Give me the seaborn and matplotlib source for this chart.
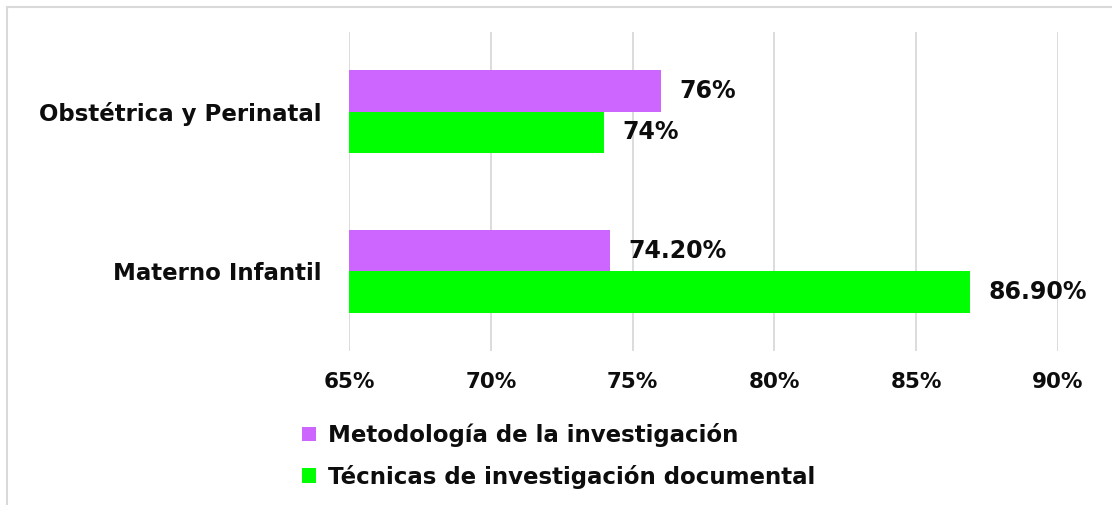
import matplotlib
matplotlib.use("Agg")
import matplotlib.pyplot as plt
from matplotlib.patches import Patch
from matplotlib.lines import Line2D
import seaborn as sns
import pandas as pd

categories = ["Obstétrica y Perinatal", "Materno Infantil"]
series_names = ["Metodología de la investigación", "Técnicas de investigación documental"]
metodologia = [76.0, 74.2]
tecnicas = [74.0, 86.9]
label_metodologia = ["76%", "74.20%"]
label_tecnicas = ["74%", "86.90%"]
tick_values = [65, 70, 75, 80, 85, 90]
tick_labels = ["65%", "70%", "75%", "80%", "85%", "90%"]
colors = ["#CC66FF", "#00FF00"]
text_color = "#0D0D0D"

rows = []
for c, v, l in zip(categories, metodologia, label_metodologia):
    rows.append({"cat": c, "serie": series_names[0], "val": v, "lab": l})
for c, v, l in zip(categories, tecnicas, label_tecnicas):
    rows.append({"cat": c, "serie": series_names[1], "val": v, "lab": l})
df = pd.DataFrame(rows)

sns.set_theme(style="white")
plt.rcParams["font.family"] = ["DejaVu Sans"]

W, H = 1112, 505
fig = plt.figure(figsize=(W / 100, H / 100), dpi=100)
left, right, top, bottom = 349, 1058, 32, 351
ax = fig.add_axes([left / W, 1 - bottom / H, (right - left) / W, (bottom - top) / H])

sns.barplot(data=df, y="cat", x="val", hue="serie", order=categories,
            hue_order=series_names, palette=colors, width=0.52, orient="h",
            ax=ax, legend=False, saturation=1, linewidth=0)

ax.set_xlim(65, 90)
ax.set_ylim(1.5, -0.5)
ax.set_xticks(tick_values)
ax.set_xticklabels(tick_labels, fontsize=15.5, fontweight="bold", color=text_color)
ax.tick_params(axis="x", length=0, pad=15)
ax.tick_params(axis="y", length=0, pad=20)
for t in ax.get_yticklabels():
    t.set_fontsize(16.5)
    t.set_fontweight("bold")
    t.set_color(text_color)
ax.set_xlabel("")
ax.set_ylabel("")
for s in ax.spines.values():
    s.set_visible(False)
ax.grid(axis="x", color="#D9D9D9", linewidth=1.3)
ax.set_axisbelow(True)

# data labels
for container, labs in zip(ax.containers, [label_metodologia, label_tecnicas]):
    ax.bar_label(container, labels=labs, padding=13, fontsize=17,
                 fontweight="bold", color=text_color)

# chart border (top and left)
fig.add_artist(Line2D([7 / W, 7 / W], [0, 1 - 7 / H], color="#D9D9D9", linewidth=1.5))
fig.add_artist(Line2D([7 / W, 1], [1 - 7 / H, 1 - 7 / H], color="#D9D9D9", linewidth=1.5))

handles = [Patch(facecolor=c, edgecolor="none") for c in colors]
leg = fig.legend(handles, series_names, loc="upper left",
                 bbox_to_anchor=(302 / W, 1 - 423 / H), frameon=False,
                 prop={"size": 16.5, "weight": "bold"}, handlelength=0.62,
                 handleheight=0.62, handletextpad=0.5, labelspacing=0.78,
                 borderaxespad=0, borderpad=0)
for t in leg.get_texts():
    t.set_color(text_color)

fig.savefig("out.png", dpi=100)
